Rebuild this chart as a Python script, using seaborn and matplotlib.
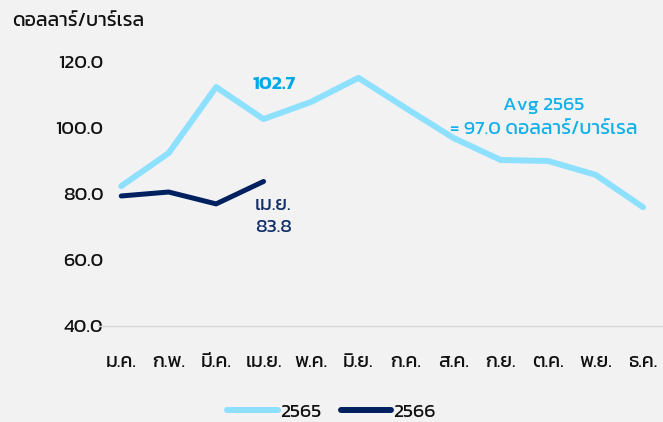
import matplotlib
matplotlib.use("Agg")
import matplotlib.pyplot as plt
import seaborn as sns
import pandas as pd

months = ["ม.ค.", "ก.พ.", "มี.ค.", "เม.ย.", "พ.ค.", "มิ.ย.",
          "ก.ค.", "ส.ค.", "ก.ย.", "ต.ค.", "พ.ย.", "ธ.ค."]
price_2565 = [82.4, 92.4, 112.4, 102.7, 107.9, 115.2, 106.0, 97.0, 90.3, 90.0, 85.8, 76.0]
price_2566 = [79.4, 80.6, 77.0, 83.8]
y_ticks = [40, 60, 80, 100, 120]
years = ["2565", "2566"]
colors = ["#8ee0ff", "#002060"]

sns.set_style("white")
plt.rcParams["font.family"] = ["Kanit", "DejaVu Sans"]
plt.rcParams["font.weight"] = "normal"
plt.rcParams["text.color"] = "#111111"
plt.rcParams["xtick.color"] = "#111111"
plt.rcParams["ytick.color"] = "#111111"

fs = 14

fig = plt.figure(figsize=(6.63, 4.22), dpi=100, facecolor="#f2f2f2")
ax = fig.add_axes([98 / 663, 96 / 422, 565 / 663, 264 / 422])
ax.set_facecolor("#f2f2f2")

df = pd.DataFrame({"x": list(range(12)) + list(range(4)),
                   "y": price_2565 + price_2566,
                   "ปี": [years[0]] * 12 + [years[1]] * 4})
sns.lineplot(data=df, x="x", y="y", hue="ปี", palette=colors,
             ax=ax, legend=False, solid_capstyle="round")
ax.lines[0].set_linewidth(4.3)
ax.lines[1].set_linewidth(3.6)

ax.set_xlim(-0.49, 11.42)
ax.set_ylim(40, 120)
ax.set_xticks(range(12))
ax.set_xticklabels(months, fontsize=fs)
ax.set_yticks(y_ticks)
ax.set_yticklabels([f"{v:.1f}" for v in y_ticks], fontsize=fs)
ax.set_xlabel("")
ax.set_ylabel("")
ax.tick_params(axis="x", length=0, pad=20)
ax.tick_params(axis="y", length=0, pad=-4)
for s in ["top", "right", "left"]:
    ax.spines[s].set_visible(False)
ax.spines["bottom"].set_color("#d9d9d9")
ax.spines["bottom"].set_linewidth(1)

fig.text(12 / 663, 1 - 22 / 422, "ดอลลาร์/บาร์เรล", fontsize=fs, va="center")

# annotations
ax.text(3.22, 113.3, "102.7", color="#00a8e8", fontsize=fs, weight="semibold",
        ha="center", va="center")
ax.text(2.82, 79.2, "เม.ย.\n83.8", color="#13306a", fontsize=fs,
        ha="left", va="top", linespacing=1.45)
ax.text(8.9, 103.2, "Avg 2565\n= 97.0 ดอลลาร์/บาร์เรล", color="#12b0ea",
        fontsize=fs, ha="center", va="center", linespacing=1.5)

handles = [plt.Line2D([], [], color=c, lw=4.3, solid_capstyle="round") for c in colors]
fig.legend(handles, years, loc="center", bbox_to_anchor=(0.5, 1 - 412 / 422),
           ncol=2, frameon=False, fontsize=fs, handlelength=2.6,
           handletextpad=0.1, columnspacing=1.0)

fig.savefig("out.png", dpi=100, facecolor=fig.get_facecolor())
